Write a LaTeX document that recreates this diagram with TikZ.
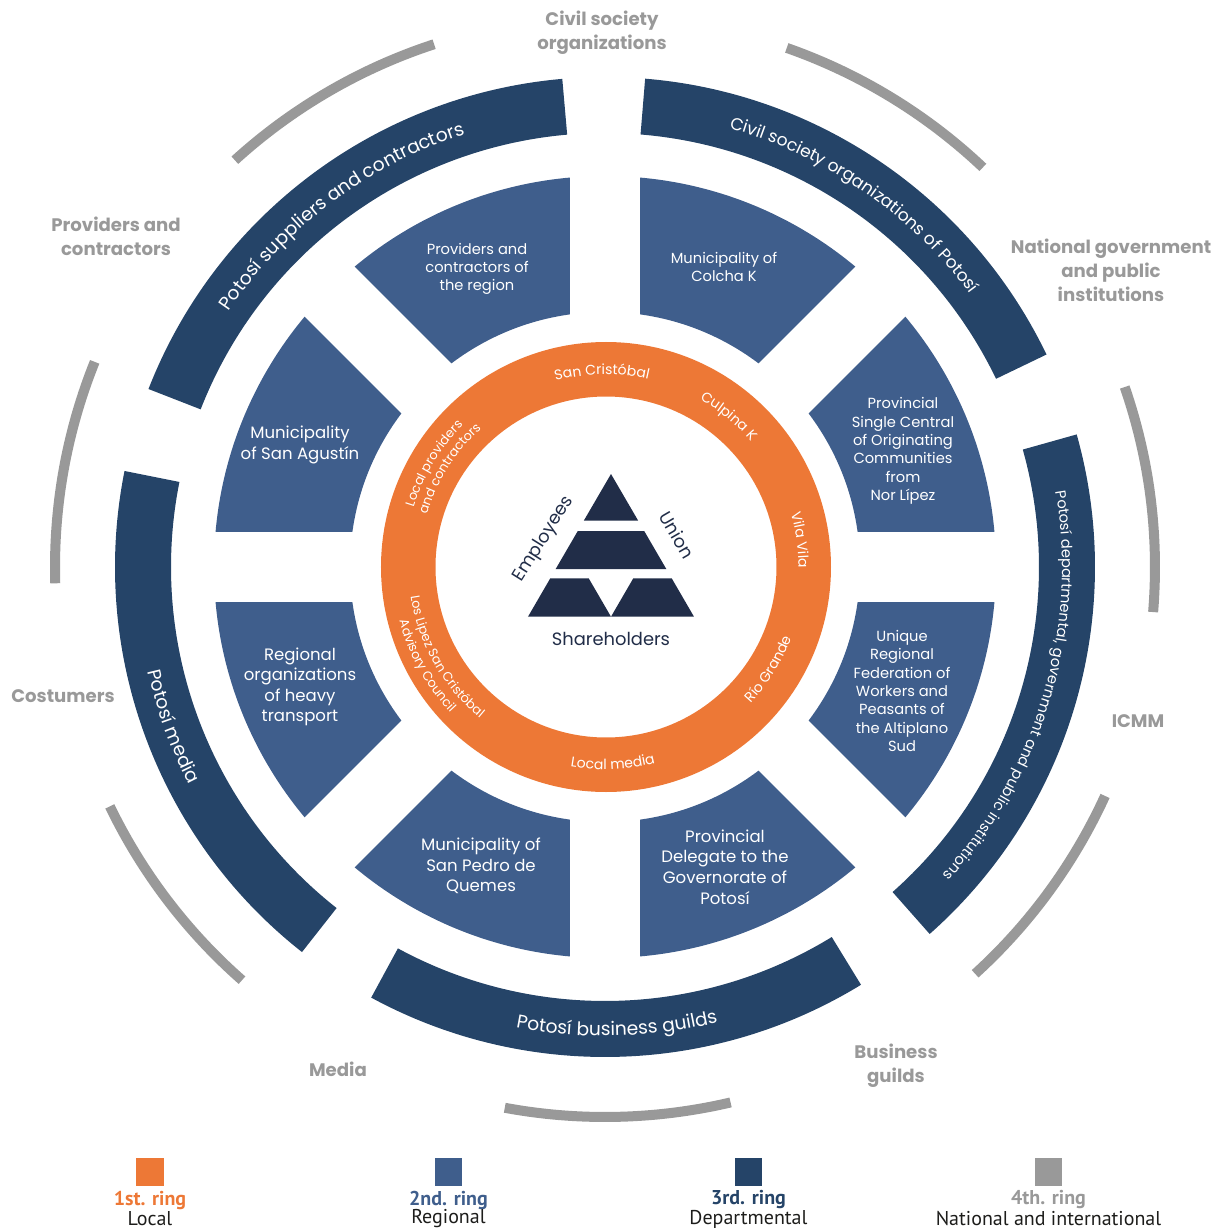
\documentclass[tikz,border=0pt]{standalone}
\usepackage{fontspec}
\setmainfont{Poppins}
\newfontfamily\legendfont{PT Sans}
\usetikzlibrary{decorations.text}

\definecolor{ringone}{HTML}{ED7836}
\definecolor{ringtwo}{HTML}{3F5E8C}
\definecolor{ringthree}{HTML}{254468}
\definecolor{ringfour}{HTML}{999999}
\definecolor{pyramid}{HTML}{212D48}
\definecolor{legendink}{HTML}{1D1D1B}

\newcommand\darkfont{\color{white}\fontsize{14}{16}\selectfont}
\newcommand\darkmid{\color{white}\fontsize{12.8}{15}\selectfont}
\newcommand\darksmall{\color{white}\fontsize{11}{13}\selectfont}
\newcommand\ringfont{\color{white}\fontsize{10.5}{12}\selectfont}
\newcommand\ringsmall{\color{white}\fontsize{9.6}{11}\selectfont}

\begin{document}
\begin{tikzpicture}[x=0.75pt,y=0.75pt,
    sectortext/.style={text=white,align=center,font=\fontsize{11}{13.8}\selectfont},
    sectorbig/.style={text=white,align=center,font=\fontsize{12.4}{15.4}\selectfont},
    outerlabel/.style={text=ringfour,align=center,font=\bfseries\fontsize{13.6}{18}\selectfont},
    pyrlabel/.style={text=pyramid,font=\fontsize{13.4}{15}\selectfont},
    legendhead/.style={font=\legendfont\bfseries\fontsize{15}{17}\selectfont},
    legendsub/.style={text=legendink,inner sep=1pt,font=\legendfont\fontsize{15}{17}\selectfont},
    arctext/.style={decorate,decoration={text along path,text align=center,text={#1}}}]

\useasboundingbox (-605,567) rectangle (623,-665);

% 4th ring
\foreach \a/\b in {108.1/132.3,46.6/70.7,-4.7/19.1,-47.7/-24.6,-100.5/-76.8,205.8/228.7,158.1/181.7}
    \draw[ringfour,line width=7.5pt] (\a:550) arc[start angle=\a,end angle=\b,radius=550];

\node[outerlabel] (civil) at (-3,534) {Civil society\\organizations};
\node[outerlabel] (providers) at (-489,331) {Providers and\\contractors};
\node[outerlabel] (national) at (506,297) {National government\\and public\\institutions};
\node[outerlabel] (costumers) at (-542,-129) {Costumers};
\node[outerlabel] (icmm) at (533,-154) {ICMM};
\node[outerlabel] (media) at (-267,-502) {Media};
\node[outerlabel] (guilds) at (291,-499) {Business\\guilds};

% 3rd ring
\foreach \a/\b in {95/158.7,25.7/85.3,-48.5/15.7,-118.5/-58.5,168.7/231.8}
    \fill[ringthree] (\a:434) arc[start angle=\a,end angle=\b,radius=434]
        -- (\b:490) arc[start angle=\b,end angle=\a,radius=490] -- cycle;

\path[arctext={|\darkfont|Potosí suppliers and contractors}] (158.7:455) arc[start angle=158.7,end angle=95,radius=455];
\path[arctext={|\darkmid|Civil society organizations of Potosí}] (85.3:456) arc[start angle=85.3,end angle=25.7,radius=456];
\path[arctext={|\darksmall|Potosí departmental, government and public institutions}] (15.7:457) arc[start angle=15.7,end angle=-48.5,radius=457];
\path[arctext={|\darkfont|Potosí business guilds}] (-118.5:469) arc[start angle=-118.5,end angle=-58.5,radius=469];
\path[arctext={|\darkfont|Potosí media}] (168.7:469) arc[start angle=168.7,end angle=231.8,radius=469];

% 2nd ring
\fill[ringtwo,even odd rule] (0,0) circle[radius=391] circle[radius=255];
\foreach \a in {0,45,90,135}
    \draw[white,line width=53pt] (\a+180:400) -- (\a:400);

\node[sectortext] (region) at (-128,298) {Providers and\\contractors of\\the region};
\node[sectortext] (colcha) at (119,300) {Municipality of\\Colcha K};
\node[sectorbig] (agustin) at (-305,122) {Municipality\\of San Agustín};
\node[sectortext] (norlipez) at (298,116) {Provincial\\Single Central\\of Originating\\Communities\\from\\Nor Lípez};
\node[sectorbig] (transport) at (-305,-120) {Regional\\organizations\\of heavy\\transport};
\node[sectortext] (altiplano) at (297,-124) {Unique\\Regional\\Federation of\\Workers and\\Peasants of\\the Altiplano\\Sud};
\node[sectorbig] (quemes) at (-124,-299) {Municipality of\\San Pedro de\\Quemes};
\node[sectorbig] (delegate) at (120,-300) {Provincial\\Delegate to the\\Governorate of\\Potosí};

% 1st ring
\fill[ringone,even odd rule] (1,0) circle[radius=225] circle[radius=170.5];

\path[arctext={|\ringfont|San Cristóbal}] (130.9:192.5) arc[start angle=130.9,end angle=50.9,radius=192.5];
\path[arctext={|\ringfont|Culpina K}] (90.6:192.5) arc[start angle=90.6,end angle=10.6,radius=192.5];
\path[arctext={|\ringfont|Vila Vila}] (47.9:193.5) arc[start angle=47.9,end angle=-32.1,radius=193.5];
\path[arctext={|\ringfont|Río Grande}] (-72:199.5) arc[start angle=-72,end angle=8,radius=199.5];
\path[arctext={|\ringfont|Local media}] (-127.7:202.5) arc[start angle=-127.7,end angle=-47.7,radius=202.5];
\path[arctext={|\ringsmall|Los Lipez San Cristóbal}] (169.5:196.5) arc[start angle=169.5,end angle=249.5,radius=196.5];
\path[arctext={|\ringsmall|Advisory Council}] (169:212.5) arc[start angle=169,end angle=249,radius=212.5];
\path[arctext={|\ringsmall|Local providers}] (188.8:200.5) arc[start angle=188.8,end angle=108.8,radius=200.5];
\path[arctext={|\ringsmall|and contractors}] (187.7:185.5) arc[start angle=187.7,end angle=107.7,radius=185.5];

% center
\fill[pyramid] (6,93) -- (33.2,46.3) -- (-21.2,46.3) -- cycle;
\fill[pyramid] (-27.2,36) -- (39.2,36) -- (61.3,-2) -- (-49.3,-2) -- cycle;
\fill[pyramid] (-54.7,-11.3) -- (-16.3,-11.3) -- (6,-49.7) -- (-77,-49.7) -- cycle;
\fill[pyramid] (28.3,-11.3) -- (66.7,-11.3) -- (89,-49.7) -- (6,-49.7) -- cycle;

\node[pyrlabel,rotate=58] (employees) at (-61,28) {Employees};
\node[pyrlabel,rotate=-60] (union) at (72,32) {Union};
\node[pyrlabel] (shareholders) at (6,-72) {Shareholders};

% legend
\foreach \clr/\xx/\ringname/\lvl [count=\n] in
    {ringone/-455/1st. ring/Local,ringtwo/-156.5/2nd. ring/Regional,
     ringthree/143.5/3rd. ring/Departmental,ringfour/443.5/4th. ring/National and international}
{
    \node[fill=\clr,minimum width=20.5pt,minimum height=21pt,inner sep=0pt] (K\n) at (\xx,-605) {};
    \node[legendhead,text=\clr] (R\n) at (\xx,-633) {\ringname};
    \node[legendsub] (L\n) at (\xx,-652) {\lvl};
}
\end{tikzpicture}
\end{document}
